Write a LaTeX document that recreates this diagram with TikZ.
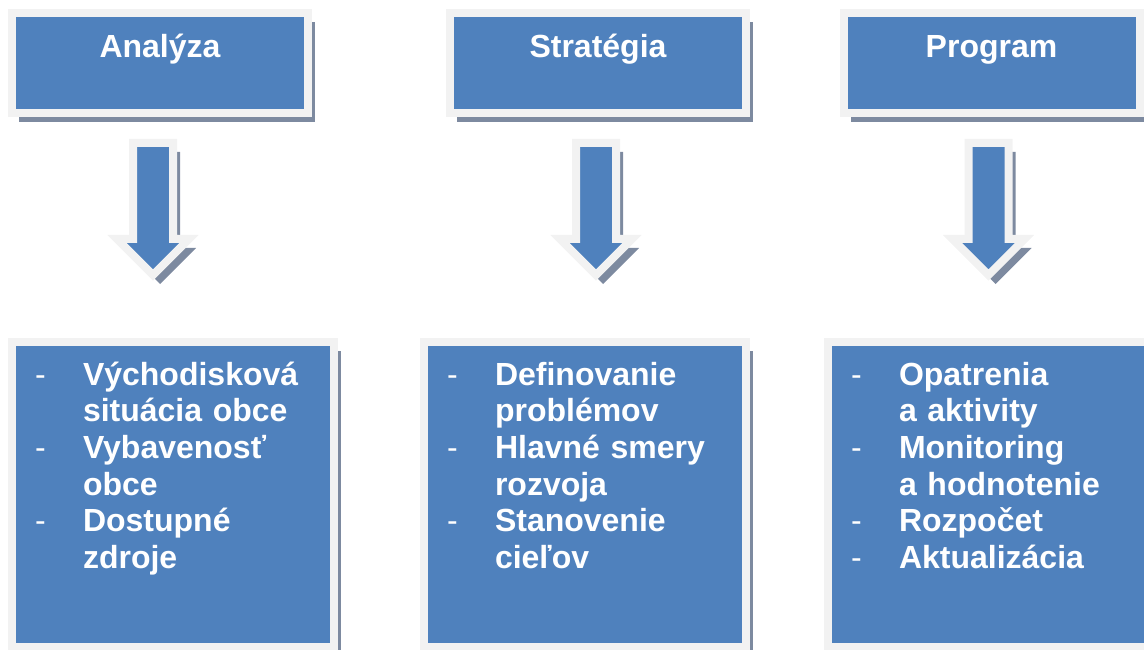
\documentclass[tikz,border=0pt]{standalone}
\usepackage{fontspec}
\setmainfont{Liberation Sans}
\usetikzlibrary{shapes.arrows,shadows}
\definecolor{boxblue}{RGB}{79,129,189}
\definecolor{framegrey}{RGB}{242,242,242}
\definecolor{shadowgrey}{RGB}{125,138,160}
\newcommand{\dashitem}{\makebox[48pt][l]{\mdseries -}}
\newcommand{\contline}{\hspace*{48pt}}
\begin{document}
\begin{tikzpicture}[x=1pt, y=-1pt]
\tikzstyle{dropshade}=[drop shadow={shadow xshift=7pt, shadow yshift=-9pt, fill=shadowgrey, opacity=1}]
\tikzstyle{titlebox}=[dropshade, fill=boxblue, draw=framegrey, line width=8pt, minimum width=296pt, minimum height=100pt, inner sep=0pt, text height=24pt, text depth=34pt, text=white, font=\fontsize{32}{36.7}\selectfont\bfseries]
\tikzstyle{downarrow}=[dropshade, single arrow, shape border rotate=270, fill=boxblue, draw=framegrey, line width=8pt, inner sep=16pt, minimum height=132pt, single arrow head extend=16pt, single arrow tip angle=90, anchor=tail]
\tikzstyle{itemlist}=[dropshade, fill=boxblue, draw=framegrey, line width=8pt, inner xsep=23pt, inner ysep=0pt, text width=276pt, align=left, text height=43pt, text depth=262pt, text=white, font=\fontsize{32}{36.7}\selectfont\bfseries]
\useasboundingbox (0,0) rectangle (1144,650);
\clip (0,0) rectangle (1144,650);
    \node [titlebox] (analyza) at (160,63) {Analýza};
    \node [titlebox] (strategia) at (598,63) {Stratégia};
    \node [titlebox] (program) at (991.5,63) {Program};
    \node [downarrow] (arrA) at (153,139) {};
    \node [downarrow] (arrS) at (596,139) {};
    \node [downarrow] (arrP) at (988.5,139) {};
    \node [itemlist] (listA) at (173,494.5) {\dashitem Východisková\\
        \contline situácia obce\\
        \dashitem Vybavenosť\\
        \contline obce\\
        \dashitem Dostupné\\
        \contline zdroje};
    \node [itemlist] (listS) at (585,494.5) {\dashitem Definovanie\\
        \contline problémov\\
        \dashitem Hlavné smery\\
        \contline rozvoja\\
        \dashitem Stanovenie\\
        \contline cieľov};
    \node [itemlist] (listP) at (989,494.5) {\dashitem Opatrenia\\
        \contline a aktivity\\
        \dashitem Monitoring\\
        \contline a hodnotenie\\
        \dashitem Rozpočet\\
        \dashitem Aktualizácia};
\end{tikzpicture}
\end{document}
